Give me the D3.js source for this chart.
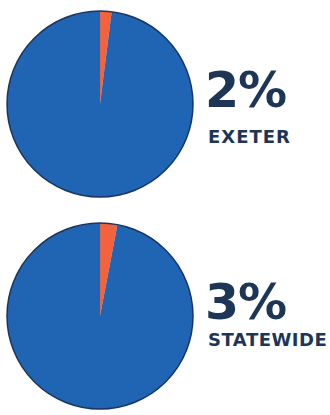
<!DOCTYPE html>
<html>
<head>
<meta charset="utf-8">
<script src="https://cdn.jsdelivr.net/npm/d3@7"></script>
<style>
  body { margin: 0; background: #fff; }
  text { font-family: "DejaVu Sans", sans-serif; font-weight: bold; fill: #1d3658; }
</style>
</head>
<body>
<svg width="330" height="415"></svg>
<script>
let places = ["EXETER", "STATEWIDE"];
let shares = [2, 3];

let svg = d3.select("svg"),
  radius = 93,
  cx = 100,
  cy = d3.scalePoint().domain(places).range([104, 316]);

let color = d3.scaleOrdinal()
  .domain(["share", "rest"])
  .range(["#f2623d", "#2065b3"]);

let pie = d3.pie().sort(null).value(d => d.v);
let arc = d3.arc().innerRadius(0).outerRadius(radius);

let rows = places.map((p, i) => ({
  name: p,
  pct: shares[i],
  parts: [{ key: "share", v: shares[i] }, { key: "rest", v: 100 - shares[i] }]
}));

let g = svg.selectAll(".chart")
  .data(rows)
  .enter()
  .append("g")
  .attr("class", "chart")
  .attr("transform", d => "translate(" + cx + "," + cy(d.name) + ")");

g.selectAll("path")
  .data(d => pie(d.parts))
  .enter()
  .append("path")
  .attr("d", arc)
  .style("fill", d => color(d.data.key));

// thin dark rim round each pie
g.append("circle")
  .attr("r", radius)
  .style("fill", "none")
  .style("stroke", "#193560")
  .style("stroke-width", 1.5);

g.append("text")
  .attr("x", 105)
  .attr("y", 3)
  .style("font-size", "49px")
  .style("font-weight", "900")
  .style("letter-spacing", "-1px")
  .text(d => d.pct + "%");

g.append("text")
  .attr("x", 108)
  .attr("y", (d, i) => i === 0 ? 39 : 30)
  .style("font-size", "18px")
  .style("letter-spacing", (d, i) => i === 0 ? "1px" : "0.5px")
  .text(d => d.name);
</script>
</body>
</html>
